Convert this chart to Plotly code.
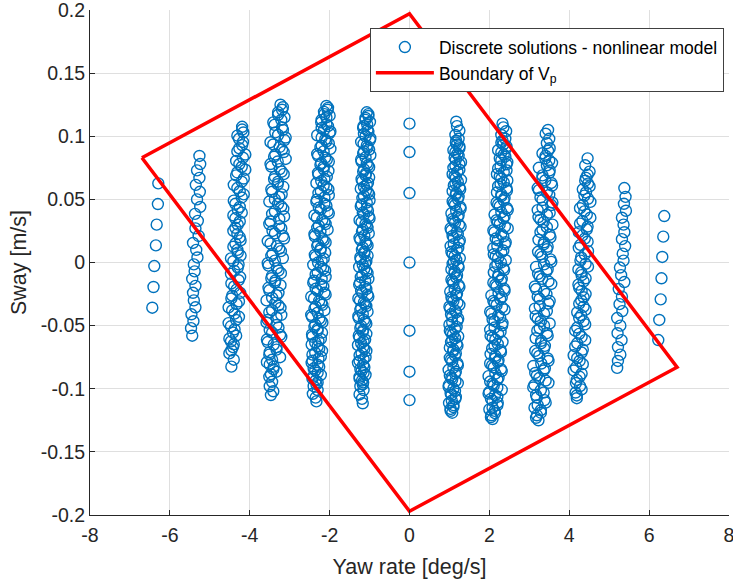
import plotly.graph_objects as go

# ---------------- data ----------------
# cluster near -6.4 deg/s
a_x = [-6.29, -6.30, -6.33, -6.35, -6.39, -6.41, -6.44]
a_y = [0.0627, 0.0463, 0.0300, 0.0136, -0.0028, -0.0194, -0.0358]

# cluster near -5.35 deg/s
b_x = [-5.26, -5.24, -5.32, -5.26, -5.35, -5.25, -5.32, -5.24, -5.37, -5.30, -5.36, -5.28, -5.42,
       -5.34, -5.31, -5.40, -5.38, -5.44, -5.36, -5.42, -5.40, -5.36, -5.46, -5.41, -5.47, -5.44]
b_y = [0.0844, 0.078, 0.073, 0.067, 0.0615, 0.056, 0.050, 0.044, 0.0385, 0.033, 0.027, 0.021, 0.0155,
       0.010, 0.004, -0.0015, -0.007, -0.013, -0.0185, -0.024, -0.030, -0.0355, -0.041, -0.0465, -0.052, -0.058]

# cluster near -4.3 deg/s
c_x = [-4.19, -4.16, -4.27, -4.19, -4.31, -4.17, -4.26, -4.11, -4.34, -4.20,
       -4.31, -4.15, -4.40, -4.25, -4.20, -4.36, -4.30, -4.41, -4.25, -4.36,
       -4.31, -4.23, -4.41, -4.30, -4.47, -4.28, -4.39, -4.24, -4.46, -4.33,
       -4.44, -4.27, -4.53, -4.38, -4.34, -4.47, -4.42, -4.51, -4.40, -4.46]
c_y = [0.1075, 0.103, 0.098, 0.093, 0.088, 0.083, 0.078, 0.0735, 0.069, 0.064,
       0.059, 0.054, 0.049, 0.044, 0.0395, 0.035, 0.030, 0.025, 0.020, 0.015,
       0.010, 0.0055, 0.001, -0.004, -0.009, -0.014, -0.019, -0.024, -0.0285, -0.033,
       -0.038, -0.043, -0.048, -0.053, -0.058, -0.0625, -0.067, -0.072, -0.077, -0.0825]
c2_x = [-4.19, -4.31, -4.17, -4.26, -4.11, -4.34, -4.20, -4.31, -4.15, -4.40,
        -4.25, -4.20, -4.36, -4.30, -4.41, -4.25, -4.36, -4.31, -4.23, -4.41,
        -4.30, -4.47, -4.28, -4.39, -4.24, -4.46, -4.33, -4.44, -4.27, -4.53,
        -4.38, -4.34, -4.47, -4.42, -4.51, -4.40, -4.46]
c2_y = [0.1053, 0.1005, 0.0955, 0.0905, 0.0855, 0.0805, 0.0758, 0.0713, 0.0665, 0.0615,
        0.0565, 0.0515, 0.0465, 0.0418, 0.0373, 0.0325, 0.0275, 0.0225, 0.0175, 0.0125,
        0.0078, 0.0033, -0.0015, -0.0065, -0.0115, -0.0165, -0.0215, -0.0263, -0.0308, -0.0355,
        -0.0405, -0.0455, -0.0505, -0.0555, -0.0603, -0.0648, -0.0695]

# cluster near -3.3 deg/s
d_x = [-3.23, -3.19, -3.29, -3.21, -3.38, -3.17, -3.29, -3.13, -3.41, -3.19,
       -3.36, -3.10, -3.48, -3.25, -3.15, -3.39, -3.30, -3.46, -3.20, -3.37,
       -3.29, -3.16, -3.44, -3.26, -3.51, -3.21, -3.37, -3.14, -3.48, -3.26,
       -3.43, -3.17, -3.55, -3.32, -3.22, -3.46, -3.37, -3.53, -3.28, -3.44,
       -3.36, -3.23, -3.51, -3.33, -3.58, -3.28, -3.44, -3.21, -3.55, -3.33,
       -3.50, -3.24, -3.57, -3.40, -3.33, -3.51, -3.44, -3.50, -3.41, -3.47]
d_y = [0.125, 0.121, 0.117, 0.113, 0.109, 0.105, 0.101, 0.097, 0.0935, 0.0895,
       0.0855, 0.082, 0.078, 0.074, 0.070, 0.066, 0.062, 0.058, 0.054, 0.050,
       0.0465, 0.0425, 0.0385, 0.0345, 0.0305, 0.027, 0.023, 0.019, 0.015, 0.011,
       0.007, 0.0035, -0.0005, -0.0045, -0.0085, -0.0125, -0.016, -0.020, -0.024, -0.028,
       -0.032, -0.036, -0.0395, -0.0435, -0.0475, -0.0515, -0.0555, -0.059, -0.063, -0.067,
       -0.071, -0.075, -0.079, -0.0825, -0.0865, -0.0905, -0.0945, -0.098, -0.102, -0.105]
d2_x = [-3.17, -3.29, -3.13, -3.41, -3.19, -3.36, -3.10, -3.48, -3.25, -3.15,
        -3.39, -3.30, -3.46, -3.20, -3.37, -3.29, -3.16, -3.44, -3.26, -3.51,
        -3.21, -3.37, -3.14, -3.48, -3.26, -3.43, -3.17, -3.55, -3.32, -3.22,
        -3.46, -3.37, -3.53, -3.28, -3.44, -3.36, -3.23, -3.51, -3.33, -3.58,
        -3.28, -3.44, -3.21, -3.55, -3.33, -3.50, -3.24, -3.57, -3.40, -3.33,
        -3.51, -3.44, -3.50, -3.41, -3.47]
d2_y = [0.123, 0.119, 0.115, 0.111, 0.107, 0.103, 0.099, 0.0953, 0.0915, 0.0875,
        0.0838, 0.080, 0.076, 0.072, 0.068, 0.064, 0.060, 0.056, 0.052, 0.0483,
        0.0445, 0.0405, 0.0365, 0.0325, 0.0288, 0.025, 0.021, 0.017, 0.013, 0.009,
        0.0053, 0.0015, -0.0025, -0.0065, -0.0105, -0.0143, -0.018, -0.022, -0.026, -0.030,
        -0.034, -0.0378, -0.0415, -0.0455, -0.0495, -0.0535, -0.0573, -0.061, -0.065, -0.069,
        -0.073, -0.077, -0.0808, -0.0845, -0.0885]

# cluster near -2.2 deg/s
e_x = [-2.08, -2.05, -2.13, -2.08, -2.21, -2.04, -2.14, -2.00, -2.20, -2.08,
       -2.20, -1.98, -2.31, -2.11, -2.02, -2.23, -2.15, -2.29, -2.07, -2.21,
       -2.15, -2.03, -2.28, -2.13, -2.33, -2.08, -2.22, -2.02, -2.32, -2.13,
       -2.27, -2.05, -2.38, -2.18, -2.10, -2.31, -2.23, -2.37, -2.15, -2.29,
       -2.22, -2.11, -2.35, -2.20, -2.41, -2.16, -2.30, -2.10, -2.39, -2.21,
       -2.35, -2.13, -2.46, -2.26, -2.18, -2.38, -2.30, -2.44, -2.22, -2.36,
       -2.30, -2.19, -2.43, -2.28, -2.45, -2.26, -2.36, -2.22, -2.43, -2.30,
       -2.40, -2.30, -2.42, -2.35, -2.33]
e_y = [0.124, 0.121, 0.1175, 0.115, 0.111, 0.108, 0.105, 0.1025, 0.099, 0.096,
       0.0925, 0.090, 0.086, 0.083, 0.080, 0.0775, 0.074, 0.071, 0.068, 0.0645,
       0.061, 0.058, 0.055, 0.0515, 0.048, 0.045, 0.042, 0.039, 0.0355, 0.032,
       0.029, 0.026, 0.0225, 0.019, 0.016, 0.013, 0.0095, 0.006, 0.003, 0.000,
       -0.0035, -0.0065, -0.0095, -0.013, -0.016, -0.019, -0.0225, -0.0255, -0.0285, -0.032,
       -0.035, -0.038, -0.0415, -0.0445, -0.0475, -0.051, -0.054, -0.057, -0.0605, -0.0635,
       -0.0665, -0.070, -0.073, -0.076, -0.0795, -0.0825, -0.0855, -0.089, -0.092, -0.095,
       -0.098, -0.101, -0.104, -0.107, -0.110]
e2_x = [-2.04, -2.14, -2.00, -2.20, -2.08, -2.20, -1.98, -2.31, -2.11, -2.02,
        -2.23, -2.15, -2.29, -2.07, -2.21, -2.15, -2.03, -2.28, -2.13, -2.33,
        -2.08, -2.22, -2.02, -2.32, -2.13, -2.27, -2.05, -2.38, -2.18, -2.10,
        -2.31, -2.23, -2.37, -2.15, -2.29, -2.22, -2.11, -2.35, -2.20, -2.41,
        -2.16, -2.30, -2.10, -2.39, -2.21, -2.35, -2.13, -2.46, -2.26, -2.18,
        -2.38, -2.30, -2.44, -2.22, -2.36, -2.30, -2.19, -2.43, -2.28, -2.45,
        -2.26, -2.36, -2.22, -2.43, -2.30, -2.40, -2.30, -2.42, -2.35, -2.33]
e2_y = [0.1225, 0.1193, 0.1163, 0.113, 0.1095, 0.1065, 0.1038, 0.1008, 0.0975, 0.0943,
        0.0913, 0.088, 0.0845, 0.0815, 0.0788, 0.0758, 0.0725, 0.0695, 0.0663, 0.0628,
        0.0595, 0.0565, 0.0533, 0.0498, 0.0465, 0.0435, 0.0405, 0.0373, 0.0338, 0.0305,
        0.0275, 0.0243, 0.0208, 0.0175, 0.0145, 0.0113, 0.0078, 0.0045, 0.0015, -0.0018,
        -0.005, -0.008, -0.0113, -0.0145, -0.0175, -0.0208, -0.024, -0.027, -0.0303, -0.0335,
        -0.0365, -0.0398, -0.043, -0.046, -0.0493, -0.0525, -0.0555, -0.0588, -0.062, -0.065,
        -0.0683, -0.0715, -0.0745, -0.0778, -0.081, -0.084, -0.0873, -0.0905, -0.0935, -0.0965]

# cluster near -1.1 deg/s
f_x = [-1.07, -1.03, -1.10, -1.06, -1.16, -1.03, -1.10, -0.99, -1.15, -1.05,
       -1.14, -0.98, -1.21, -1.07, -1.01, -1.16, -1.10, -1.20, -1.04, -1.14,
       -1.09, -1.01, -1.18, -1.07, -1.22, -1.04, -1.14, -1.00, -1.20, -1.07,
       -1.17, -1.02, -1.25, -1.10, -1.05, -1.19, -1.13, -1.23, -1.08, -1.17,
       -1.13, -1.05, -1.22, -1.11, -1.26, -1.08, -1.18, -1.03, -1.24, -1.11,
       -1.21, -1.05, -1.28, -1.14, -1.08, -1.23, -1.17, -1.27, -1.11, -1.21,
       -1.16, -1.08, -1.25, -1.15, -1.29, -1.13, -1.20, -1.10, -1.25, -1.16,
       -1.23, -1.15, -1.25, -1.19, -1.17]
f_y = [0.119, 0.116, 0.113, 0.1095, 0.1065, 0.1035, 0.100, 0.097, 0.094, 0.091,
       0.088, 0.085, 0.0815, 0.0785, 0.0755, 0.072, 0.069, 0.066, 0.063, 0.060,
       0.057, 0.054, 0.051, 0.0475, 0.0445, 0.041, 0.038, 0.035, 0.032, 0.029,
       0.026, 0.023, 0.0195, 0.0165, 0.0135, 0.010, 0.007, 0.004, 0.001, -0.002,
       -0.005, -0.0085, -0.0115, -0.0145, -0.0175, -0.021, -0.024, -0.027, -0.030, -0.033,
       -0.036, -0.039, -0.0425, -0.0455, -0.0485, -0.052, -0.055, -0.058, -0.061, -0.064,
       -0.067, -0.070, -0.0735, -0.0765, -0.0795, -0.083, -0.086, -0.089, -0.092, -0.095,
       -0.098, -0.101, -0.1045, -0.108, -0.1115]
f2_x = [-1.03, -1.10, -0.99, -1.15, -1.05, -1.14, -0.98, -1.21, -1.07, -1.01,
        -1.16, -1.10, -1.20, -1.04, -1.14, -1.09, -1.01, -1.18, -1.07, -1.22,
        -1.04, -1.14, -1.00, -1.20, -1.07, -1.17, -1.02, -1.25, -1.10, -1.05,
        -1.19, -1.13, -1.23, -1.08, -1.17, -1.13, -1.05, -1.22, -1.11, -1.26,
        -1.08, -1.18, -1.03, -1.24, -1.11, -1.21, -1.05, -1.28, -1.14, -1.08,
        -1.23, -1.17, -1.27, -1.11, -1.21, -1.16, -1.08, -1.25, -1.15, -1.29,
        -1.13, -1.20, -1.10, -1.25, -1.16, -1.23, -1.15, -1.25, -1.19, -1.17]
f2_y = [0.1175, 0.1145, 0.1113, 0.108, 0.105, 0.1018, 0.0985, 0.0955, 0.0925, 0.0895,
        0.0865, 0.0833, 0.080, 0.077, 0.0738, 0.0705, 0.0675, 0.0645, 0.0615, 0.0585,
        0.0555, 0.0525, 0.0493, 0.046, 0.0428, 0.0395, 0.0365, 0.0335, 0.0305, 0.0275,
        0.0245, 0.0213, 0.018, 0.015, 0.0118, 0.0085, 0.0055, 0.0025, -0.0005, -0.0035,
        -0.0068, -0.010, -0.013, -0.016, -0.0193, -0.0225, -0.0255, -0.0285, -0.0315, -0.0345,
        -0.0375, -0.0408, -0.044, -0.047, -0.0503, -0.0535, -0.0565, -0.0595, -0.0625, -0.0655,
        -0.0685, -0.0718, -0.075, -0.078, -0.0813, -0.0845, -0.0875, -0.0905, -0.0935, -0.0965]

# cluster at 0 deg/s
m_x = [0.0, 0.0, 0.0, 0.0, 0.0, 0.0, 0.0]
m_y = [0.110, 0.0875, 0.055, 0.0, -0.054, -0.0865, -0.109]

# cluster near 1.1 deg/s
g_x = [1.07, 1.03, 1.10, 1.06, 1.16, 1.03, 1.10, 0.99, 1.15, 1.05,
       1.14, 0.98, 1.21, 1.07, 1.01, 1.16, 1.10, 1.20, 1.04, 1.14,
       1.09, 1.01, 1.18, 1.07, 1.22, 1.04, 1.14, 1.00, 1.20, 1.07,
       1.17, 1.02, 1.25, 1.10, 1.05, 1.19, 1.13, 1.23, 1.08, 1.17,
       1.13, 1.05, 1.22, 1.11, 1.26, 1.08, 1.18, 1.03, 1.24, 1.11,
       1.21, 1.05, 1.28, 1.14, 1.08, 1.23, 1.17, 1.27, 1.11, 1.21,
       1.16, 1.08, 1.25, 1.15, 1.29, 1.13, 1.20, 1.10, 1.25, 1.16,
       1.23, 1.15, 1.25, 1.19, 1.17]
g_y = [-0.119, -0.116, -0.113, -0.1095, -0.1065, -0.1035, -0.100, -0.097, -0.094, -0.091,
       -0.088, -0.085, -0.0815, -0.0785, -0.0755, -0.072, -0.069, -0.066, -0.063, -0.060,
       -0.057, -0.054, -0.051, -0.0475, -0.0445, -0.041, -0.038, -0.035, -0.032, -0.029,
       -0.026, -0.023, -0.0195, -0.0165, -0.0135, -0.010, -0.007, -0.004, -0.001, 0.002,
       0.005, 0.0085, 0.0115, 0.0145, 0.0175, 0.021, 0.024, 0.027, 0.030, 0.033,
       0.036, 0.039, 0.0425, 0.0455, 0.0485, 0.052, 0.055, 0.058, 0.061, 0.064,
       0.067, 0.070, 0.0735, 0.0765, 0.0795, 0.083, 0.086, 0.089, 0.092, 0.095,
       0.098, 0.101, 0.1045, 0.108, 0.1115]
g2_x = [1.03, 1.10, 0.99, 1.15, 1.05, 1.14, 0.98, 1.21, 1.07, 1.01,
        1.16, 1.10, 1.20, 1.04, 1.14, 1.09, 1.01, 1.18, 1.07, 1.22,
        1.04, 1.14, 1.00, 1.20, 1.07, 1.17, 1.02, 1.25, 1.10, 1.05,
        1.19, 1.13, 1.23, 1.08, 1.17, 1.13, 1.05, 1.22, 1.11, 1.26,
        1.08, 1.18, 1.03, 1.24, 1.11, 1.21, 1.05, 1.28, 1.14, 1.08,
        1.23, 1.17, 1.27, 1.11, 1.21, 1.16, 1.08, 1.25, 1.15, 1.29,
        1.13, 1.20, 1.10, 1.25, 1.16, 1.23, 1.15, 1.25, 1.19, 1.17]
g2_y = [-0.1175, -0.1145, -0.1113, -0.108, -0.105, -0.1018, -0.0985, -0.0955, -0.0925, -0.0895,
        -0.0865, -0.0833, -0.080, -0.077, -0.0738, -0.0705, -0.0675, -0.0645, -0.0615, -0.0585,
        -0.0555, -0.0525, -0.0493, -0.046, -0.0428, -0.0395, -0.0365, -0.0335, -0.0305, -0.0275,
        -0.0245, -0.0213, -0.018, -0.015, -0.0118, -0.0085, -0.0055, -0.0025, 0.0005, 0.0035,
        0.0068, 0.010, 0.013, 0.016, 0.0193, 0.0225, 0.0255, 0.0285, 0.0315, 0.0345,
        0.0375, 0.0408, 0.044, 0.047, 0.0503, 0.0535, 0.0565, 0.0595, 0.0625, 0.0655,
        0.0685, 0.0718, 0.075, 0.078, 0.0813, 0.0845, 0.0875, 0.0905, 0.0935, 0.0965]

# cluster near 2.2 deg/s
h_x = [2.08, 2.05, 2.13, 2.08, 2.21, 2.04, 2.14, 2.00, 2.20, 2.08,
       2.20, 1.98, 2.31, 2.11, 2.02, 2.23, 2.15, 2.29, 2.07, 2.21,
       2.15, 2.03, 2.28, 2.13, 2.33, 2.08, 2.22, 2.02, 2.32, 2.13,
       2.27, 2.05, 2.38, 2.18, 2.10, 2.31, 2.23, 2.37, 2.15, 2.29,
       2.22, 2.11, 2.35, 2.20, 2.41, 2.16, 2.30, 2.10, 2.39, 2.21,
       2.35, 2.13, 2.46, 2.26, 2.18, 2.38, 2.30, 2.44, 2.22, 2.36,
       2.30, 2.19, 2.43, 2.28, 2.45, 2.26, 2.36, 2.22, 2.43, 2.30,
       2.40, 2.30, 2.42, 2.35, 2.33]
h_y = [-0.124, -0.121, -0.1175, -0.115, -0.111, -0.108, -0.105, -0.1025, -0.099, -0.096,
       -0.0925, -0.090, -0.086, -0.083, -0.080, -0.0775, -0.074, -0.071, -0.068, -0.0645,
       -0.061, -0.058, -0.055, -0.0515, -0.048, -0.045, -0.042, -0.039, -0.0355, -0.032,
       -0.029, -0.026, -0.0225, -0.019, -0.016, -0.013, -0.0095, -0.006, -0.003, 0.000,
       0.0035, 0.0065, 0.0095, 0.013, 0.016, 0.019, 0.0225, 0.0255, 0.0285, 0.032,
       0.035, 0.038, 0.0415, 0.0445, 0.0475, 0.051, 0.054, 0.057, 0.0605, 0.0635,
       0.0665, 0.070, 0.073, 0.076, 0.0795, 0.0825, 0.0855, 0.089, 0.092, 0.095,
       0.098, 0.101, 0.104, 0.107, 0.110]
h2_x = [2.04, 2.14, 2.00, 2.20, 2.08, 2.20, 1.98, 2.31, 2.11, 2.02,
        2.23, 2.15, 2.29, 2.07, 2.21, 2.15, 2.03, 2.28, 2.13, 2.33,
        2.08, 2.22, 2.02, 2.32, 2.13, 2.27, 2.05, 2.38, 2.18, 2.10,
        2.31, 2.23, 2.37, 2.15, 2.29, 2.22, 2.11, 2.35, 2.20, 2.41,
        2.16, 2.30, 2.10, 2.39, 2.21, 2.35, 2.13, 2.46, 2.26, 2.18,
        2.38, 2.30, 2.44, 2.22, 2.36, 2.30, 2.19, 2.43, 2.28, 2.45,
        2.26, 2.36, 2.22, 2.43, 2.30, 2.40, 2.30, 2.42, 2.35, 2.33]
h2_y = [-0.1225, -0.1193, -0.1163, -0.113, -0.1095, -0.1065, -0.1038, -0.1008, -0.0975, -0.0943,
        -0.0913, -0.088, -0.0845, -0.0815, -0.0788, -0.0758, -0.0725, -0.0695, -0.0663, -0.0628,
        -0.0595, -0.0565, -0.0533, -0.0498, -0.0465, -0.0435, -0.0405, -0.0373, -0.0338, -0.0305,
        -0.0275, -0.0243, -0.0208, -0.0175, -0.0145, -0.0113, -0.0078, -0.0045, -0.0015, 0.0018,
        0.005, 0.008, 0.0113, 0.0145, 0.0175, 0.0208, 0.024, 0.027, 0.0303, 0.0335,
        0.0365, 0.0398, 0.043, 0.046, 0.0493, 0.0525, 0.0555, 0.0588, 0.062, 0.065,
        0.0683, 0.0715, 0.0745, 0.0778, 0.081, 0.084, 0.0873, 0.0905, 0.0935, 0.0965]

# cluster near 3.3 deg/s
i_x = [3.23, 3.19, 3.29, 3.21, 3.38, 3.17, 3.29, 3.13, 3.41, 3.19,
       3.36, 3.10, 3.48, 3.25, 3.15, 3.39, 3.30, 3.46, 3.20, 3.37,
       3.29, 3.16, 3.44, 3.26, 3.51, 3.21, 3.37, 3.14, 3.48, 3.26,
       3.43, 3.17, 3.55, 3.32, 3.22, 3.46, 3.37, 3.53, 3.28, 3.44,
       3.36, 3.23, 3.51, 3.33, 3.58, 3.28, 3.44, 3.21, 3.55, 3.33,
       3.50, 3.24, 3.57, 3.40, 3.33, 3.51, 3.44, 3.50, 3.41, 3.47]
i_y = [-0.125, -0.121, -0.117, -0.113, -0.109, -0.105, -0.101, -0.097, -0.0935, -0.0895,
       -0.0855, -0.082, -0.078, -0.074, -0.070, -0.066, -0.062, -0.058, -0.054, -0.050,
       -0.0465, -0.0425, -0.0385, -0.0345, -0.0305, -0.027, -0.023, -0.019, -0.015, -0.011,
       -0.007, -0.0035, 0.0005, 0.0045, 0.0085, 0.0125, 0.016, 0.020, 0.024, 0.028,
       0.032, 0.036, 0.0395, 0.0435, 0.0475, 0.0515, 0.0555, 0.059, 0.063, 0.067,
       0.071, 0.075, 0.079, 0.0825, 0.0865, 0.0905, 0.0945, 0.098, 0.102, 0.105]
i2_x = [3.17, 3.29, 3.13, 3.41, 3.19, 3.36, 3.10, 3.48, 3.25, 3.15,
        3.39, 3.30, 3.46, 3.20, 3.37, 3.29, 3.16, 3.44, 3.26, 3.51,
        3.21, 3.37, 3.14, 3.48, 3.26, 3.43, 3.17, 3.55, 3.32, 3.22,
        3.46, 3.37, 3.53, 3.28, 3.44, 3.36, 3.23, 3.51, 3.33, 3.58,
        3.28, 3.44, 3.21, 3.55, 3.33, 3.50, 3.24, 3.57, 3.40, 3.33,
        3.51, 3.44, 3.50, 3.41, 3.47]
i2_y = [-0.123, -0.119, -0.115, -0.111, -0.107, -0.103, -0.099, -0.0953, -0.0915, -0.0875,
        -0.0838, -0.080, -0.076, -0.072, -0.068, -0.064, -0.060, -0.056, -0.052, -0.0483,
        -0.0445, -0.0405, -0.0365, -0.0325, -0.0288, -0.025, -0.021, -0.017, -0.013, -0.009,
        -0.0053, -0.0015, 0.0025, 0.0065, 0.0105, 0.0143, 0.018, 0.022, 0.026, 0.030,
        0.034, 0.0378, 0.0415, 0.0455, 0.0495, 0.0535, 0.0573, 0.061, 0.065, 0.069,
        0.073, 0.077, 0.0808, 0.0845, 0.0885]

# cluster near 4.3 deg/s
j_x = [4.19, 4.16, 4.27, 4.19, 4.31, 4.17, 4.26, 4.11, 4.34, 4.20,
       4.31, 4.15, 4.40, 4.25, 4.20, 4.36, 4.30, 4.41, 4.25, 4.36,
       4.31, 4.23, 4.41, 4.30, 4.47, 4.28, 4.39, 4.24, 4.46, 4.33,
       4.44, 4.27, 4.53, 4.38, 4.34, 4.47, 4.42, 4.51, 4.40, 4.46]
j_y = [-0.1075, -0.103, -0.098, -0.093, -0.088, -0.083, -0.078, -0.0735, -0.069, -0.064,
       -0.059, -0.054, -0.049, -0.044, -0.0395, -0.035, -0.030, -0.025, -0.020, -0.015,
       -0.010, -0.0055, -0.001, 0.004, 0.009, 0.014, 0.019, 0.024, 0.0285, 0.033,
       0.038, 0.043, 0.048, 0.053, 0.058, 0.0625, 0.067, 0.072, 0.077, 0.0825]
j2_x = [4.19, 4.31, 4.17, 4.26, 4.11, 4.34, 4.20, 4.31, 4.15, 4.40,
        4.25, 4.20, 4.36, 4.30, 4.41, 4.25, 4.36, 4.31, 4.23, 4.41,
        4.30, 4.47, 4.28, 4.39, 4.24, 4.46, 4.33, 4.44, 4.27, 4.53,
        4.38, 4.34, 4.47, 4.42, 4.51, 4.40, 4.46]
j2_y = [-0.1053, -0.1005, -0.0955, -0.0905, -0.0855, -0.0805, -0.0758, -0.0713, -0.0665, -0.0615,
        -0.0565, -0.0515, -0.0465, -0.0418, -0.0373, -0.0325, -0.0275, -0.0225, -0.0175, -0.0125,
        -0.0078, -0.0033, 0.0015, 0.0065, 0.0115, 0.0165, 0.0215, 0.0263, 0.0308, 0.0355,
        0.0405, 0.0455, 0.0505, 0.0555, 0.0603, 0.0648, 0.0695]

# cluster near 5.3 deg/s
k_x = [5.20, 5.22, 5.28, 5.22, 5.31, 5.21, 5.28, 5.20, 5.33, 5.26, 5.32, 5.24, 5.38,
       5.30, 5.27, 5.36, 5.34, 5.40, 5.32, 5.38, 5.36, 5.32, 5.42, 5.37, 5.41, 5.38]
k_y = [-0.0835, -0.078, -0.073, -0.067, -0.0615, -0.056, -0.050, -0.044, -0.0385, -0.033, -0.027, -0.021, -0.0155,
       -0.010, -0.004, 0.0015, 0.007, 0.013, 0.0185, 0.024, 0.030, 0.0355, 0.041, 0.0465, 0.052, 0.059]

# cluster near 6.3 deg/s
l_x = [6.38, 6.355, 6.33, 6.31, 6.29, 6.255, 6.23]
l_y = [0.0368, 0.0205, 0.0044, -0.0125, -0.0292, -0.0455, -0.0614]

# boundary polygon of V_p (closed)
bnd_x = [-6.70, 0.0, 6.70, 0.0, -6.70]
bnd_y = [0.083, 0.197, -0.083, -0.197, 0.083]

x_ticks = [-8, -6, -4, -2, 0, 2, 4, 6, 8]
x_tick_text = ["-8", "-6", "-4", "-2", "0", "2", "4", "6", "8"]
y_ticks = [-0.2, -0.15, -0.1, -0.05, 0, 0.05, 0.1, 0.15, 0.2]
y_tick_text = ["-0.2", "-0.15", "-0.1", "-0.05", "0", "0.05", "0.1", "0.15", "0.2"]

# ---------------- figure ----------------
pts_x = (a_x + b_x + c_x + c2_x + d_x + d2_x + e_x + e2_x + f_x + f2_x + m_x
         + g_x + g2_x + h_x + h2_x + i_x + i2_x + j_x + j2_x + k_x + l_x)
pts_y = (a_y + b_y + c_y + c2_y + d_y + d2_y + e_y + e2_y + f_y + f2_y + m_y
         + g_y + g2_y + h_y + h2_y + i_y + i2_y + j_y + j2_y + k_y + l_y)

BLUE = "#0072BD"
AX = "#262626"
FONT = "Liberation Sans, Arial, Helvetica, sans-serif"

fig = go.Figure()
fig.add_trace(go.Scatter(
    x=pts_x, y=pts_y, mode="markers",
    name="Discrete solutions - nonlinear model",
    marker=dict(symbol="circle-open", size=11, color=BLUE, line=dict(width=1.4, color=BLUE)),
))
fig.add_trace(go.Scatter(
    x=bnd_x, y=bnd_y, mode="lines",
    name="Boundary of V<sub>p</sub>",
    line=dict(color="#FF0000", width=3.5),
))

axis_common = dict(
    showgrid=True, gridcolor="#dfdfdf", gridwidth=1,
    zeroline=False, showline=True, linecolor=AX, linewidth=1,
    ticks="inside", ticklen=5, tickcolor=AX, tickwidth=1,
    tickfont=dict(family=FONT, size=19.5, color=AX),
    ticklabeloverflow="allow", automargin=False,
    mirror=False,
)

fig.update_layout(
    width=733, height=580,
    margin=dict(l=90, r=4, t=10, b=65),
    paper_bgcolor="white", plot_bgcolor="white",
    font=dict(family=FONT, color=AX),
    showlegend=True,
    legend=dict(
        x=0.992, y=0.964, xanchor="right", yanchor="top",
        bgcolor="white", bordercolor="#404040", borderwidth=1,
        font=dict(family=FONT, size=17.5, color="#000000"),
        tracegroupgap=0, itemwidth=58,
    ),
    xaxis=dict(
        range=[-8, 8.0008], tickvals=x_ticks, ticktext=x_tick_text,
        ticklabelstandoff=3,
        title=dict(text="Yaw rate [deg/s]", font=dict(family=FONT, size=21.5, color=AX), standoff=13),
        **axis_common,
    ),
    yaxis=dict(
        range=[-0.2, 0.20001], tickvals=y_ticks, ticktext=y_tick_text,
        title=dict(text="Sway [m/s]", font=dict(family=FONT, size=21.5, color=AX), standoff=8),
        **axis_common,
    ),
)

fig.write_html("out.html")
